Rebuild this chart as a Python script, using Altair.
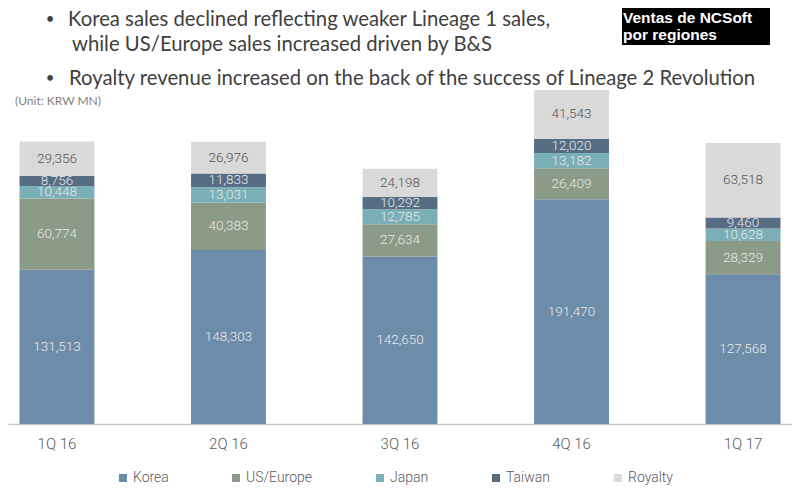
import altair as alt
import pandas as pd

quarters = ["1Q 16", "2Q 16", "3Q 16", "4Q 16", "1Q 17"]
regions = ["Korea", "US/Europe", "Japan", "Taiwan", "Royalty"]
korea = [131513, 148303, 142650, 191470, 127568]
us_europe = [60774, 40383, 27634, 26409, 28329]
japan = [10448, 13031, 12785, 13182, 10628]
taiwan = [8756, 11833, 10292, 12020, 9460]
royalty = [29356, 26976, 24198, 41543, 63518]
colors = ["#6d8ca9", "#8b9b87", "#7aafb6", "#566d84", "#d9d9d9"]

notes = [
    "Korea sales declined reflecting weaker Lineage 1 sales,",
    "while US/Europe sales increased driven by B&S",
    "Royalty revenue increased on the back of the success of Lineage 2 Revolution",
]
unit_note = "(Unit: KRW MN)"
box_lines = ["Ventas de NCSoft", "por regiones"]

series = [korea, us_europe, japan, taiwan, royalty]
rows = []
for ri, (reg, vals) in enumerate(zip(regions, series)):
    for q, v in zip(quarters, vals):
        rows.append({"quarter": q, "region": reg, "value": v, "order": ri})
df = pd.DataFrame(rows)

LABEL_FONT = "Roboto"
TITLE_FONT = "Lato"

xscale = alt.Scale(domain=quarters, paddingInner=0.5633, paddingOuter=0.067)
yscale = alt.Scale(domain=[0, 300000], nice=False)

base = alt.Chart(df).transform_stack(
    stack="value", groupby=["quarter"], sort=[alt.SortField("order", "ascending")],
    as_=["y0", "y1"]
).transform_calculate(mid="(datum.y0 + datum.y1) / 2")

bars = base.mark_bar().encode(
    x=alt.X("quarter:N", scale=xscale, sort=quarters,
            axis=alt.Axis(title="", labelAngle=0, ticks=False, labelPadding=12,
                          labelFont=LABEL_FONT, labelFontSize=15, labelFontWeight=300,
                          labelColor="#595959",
                          domainColor="#c8c8c8", domainWidth=1.5)),
    y=alt.Y("y0:Q", scale=yscale, axis=None),
    y2="y1:Q",
    color=alt.Color("region:N", scale=alt.Scale(domain=regions, range=colors),
                    legend=alt.Legend(title=None, orient="none", direction="horizontal",
                                      legendX=108, legendY=399, symbolType="square",
                                      symbolSize=64, symbolStrokeWidth=0,
                                      labelFont=LABEL_FONT, labelFontSize=14,
                                      labelFontWeight=300,
                                      labelColor="#595959", labelOffset=3,
                                      columnPadding=60)),
    order=alt.Order("order:Q"),
)

labels = base.mark_text(font=LABEL_FONT, fontSize=13.5, fontWeight=300, baseline="middle").encode(
    x=alt.X("quarter:N", scale=xscale, sort=quarters),
    y=alt.Y("mid:Q", scale=yscale),
    text=alt.Text("value:Q", format=","),
    color=alt.condition(alt.datum.region == "Royalty", alt.value("#555555"), alt.value("#e8e8e8")),
)


def note(txt, x, y, font=TITLE_FONT, size=20.3, color="#404040", weight="normal", baseline="alphabetic", align="left"):
    return alt.Chart(pd.DataFrame({"t": [txt]})).mark_text(
        font=font, fontSize=size, color=color, fontWeight=weight, baseline=baseline, align=align
    ).encode(x=alt.value(x), y=alt.value(y), text="t:N")


box = alt.Chart(pd.DataFrame({"t": [""]})).mark_rect(color="black").encode(
    x=alt.value(614), x2=alt.value(762), y=alt.value(-64), y2=alt.value(-27)
)

BOX_FONT = "Liberation Sans, Arial, sans-serif"

layers = [
    bars, labels,
    note("•", 42, -48, size=15, align="center"),
    note(notes[0], 60, -46),
    note(notes[1], 64, -21),
    note("•", 42, 11, size=15, align="center"),
    note(notes[2], 61, 13),
    note(unit_note, 7, 29, size=12, color="#7f7f7f", baseline="middle"),
    box,
    note(box_lines[0], 615, -54, font=BOX_FONT, size=15.5, color="white", weight="bold", baseline="middle"),
    note(box_lines[1], 615, -37, font=BOX_FONT, size=15.5, color="white", weight="bold", baseline="middle"),
]

chart = alt.layer(*layers).properties(
    width=784, height=352,
    autosize=alt.AutoSizeParams(type="none"),
    padding={"left": 0, "top": 64, "right": 0, "bottom": 62},
).configure_view(strokeWidth=0)

chart.save("out.html", embed_options={"renderer": "svg", "actions": False})
